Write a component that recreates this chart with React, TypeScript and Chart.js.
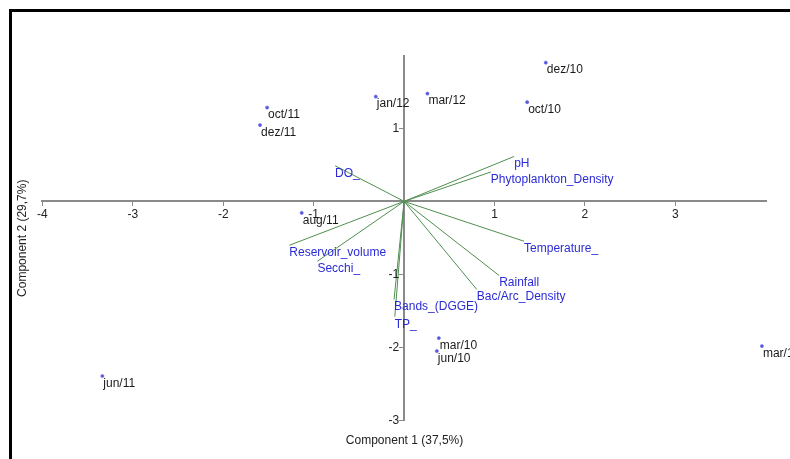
import { useEffect, useRef } from "react";
import { Chart, registerables } from "chart.js";

Chart.register(...registerables);

// Sample scores (Component 1, Component 2)
const sampleNames = ["dez/10", "oct/10", "mar/12", "jan/12", "oct/11", "dez/11", "aug/11", "mar/10", "jun/10", "mar/11", "jun/11"];
const sampleComp1 = [1.567, 1.361, 0.258, -0.313, -1.515, -1.593, -1.132, 0.384, 0.362, 3.957, -3.337];
const sampleComp2 = [1.899, 1.358, 1.475, 1.434, 1.284, 1.044, -0.158, -1.872, -2.049, -1.981, -2.391];

// Variable loadings drawn as vectors from the origin
const variableNames = ["pH", "Phytoplankton_Density", "DO_", "Reservoir_volume", "Secchi_", "Temperature_", "Rainfall", "Bac/Arc_Density", "Bands_(DGGE)", "TP_"];
const loading1 = [1.217, 0.959, -0.763, -1.269, -0.959, 1.327, 1.051, 0.804, -0.111, -0.103];
const loading2 = [0.615, 0.402, 0.488, -0.601, -0.82, -0.546, -1.015, -1.206, -1.343, -1.579];

// Axes
const xTickValues = [-4, -3, -2, -1, 1, 2, 3];
const yTickValues = [-3, -2, -1, 1];
const xRange = [-4, 4.01];
const yRange = [-3, 1.99];
const xTitle = "Component 1 (37,5%)";
const yTitle = "Component 2 (29,7%)";

const FONT = "Arial, 'Liberation Sans', sans-serif";
const AXIS_COLOR = "#8a8a8a";
const TICK_TEXT = "#222";
const VECTOR_COLOR = "#4f8f4f";
const POINT_COLOR = "#5a5ae0";
const SAMPLE_TEXT = "#1a1a1a";
const VARIABLE_TEXT = "#2b2bd6";

const biplotText = {
  id: "biplotText",
  afterDatasetsDraw(chart: any) {
    const { ctx, chartArea } = chart;
    const xs = chart.scales.x;
    const ys = chart.scales.y;
    ctx.save();
    ctx.font = `12px ${FONT}`;
    ctx.textBaseline = "middle";

    // y tick labels, placed left of the tick marks on the centre axis
    ctx.fillStyle = TICK_TEXT;
    ctx.textAlign = "right";
    const axisX = xs.getPixelForValue(0);
    yTickValues.forEach((v) => {
      ctx.fillText(String(v), axisX - 5, ys.getPixelForValue(v));
    });

    ctx.textAlign = "left";
    ctx.fillStyle = SAMPLE_TEXT;
    sampleNames.forEach((name, i) => {
      ctx.fillText(name, xs.getPixelForValue(sampleComp1[i]) + 1, ys.getPixelForValue(sampleComp2[i]) + 7.5);
    });

    ctx.fillStyle = VARIABLE_TEXT;
    variableNames.forEach((name, i) => {
      ctx.fillText(name, xs.getPixelForValue(loading1[i]), ys.getPixelForValue(loading2[i]) + 7.5);
    });

    // axis titles
    ctx.fillStyle = TICK_TEXT;
    ctx.textAlign = "center";
    ctx.fillText(xTitle, (chartArea.left + chartArea.right) / 2, chartArea.bottom + 20.5);
    ctx.translate(chartArea.left - 19.6, (chartArea.top + chartArea.bottom) / 2);
    ctx.rotate(-Math.PI / 2);
    ctx.fillText(yTitle, 0, 0);
    ctx.restore();
  },
};

export default function App() {
  const ref = useRef<HTMLCanvasElement>(null);

  useEffect(() => {
    const vectorSets = variableNames.map((name, i) => ({
      type: "line" as const,
      label: name,
      data: [
        { x: 0, y: 0 },
        { x: loading1[i], y: loading2[i] },
      ],
      borderColor: VECTOR_COLOR,
      borderWidth: 1,
      pointRadius: 0,
      showLine: true,
      fill: false,
    }));

    const chart = new Chart(ref.current!, {
      type: "scatter",
      data: {
        datasets: [
          ...vectorSets,
          {
            label: "samples",
            data: sampleNames.map((_, i) => ({ x: sampleComp1[i], y: sampleComp2[i] })),
            pointRadius: 1.6,
            backgroundColor: POINT_COLOR,
            borderColor: POINT_COLOR,
            borderWidth: 0.5,
          },
        ] as any,
      },
      options: {
        animation: false,
        responsive: false,
        devicePixelRatio: 1,
        layout: { padding: { left: 42.4, right: 23.3, top: 56, bottom: 38.5 } },
        plugins: { legend: { display: false }, tooltip: { enabled: false } },
        scales: {
          x: {
            type: "linear",
            position: { y: 0 } as any,
            min: xRange[0],
            max: xRange[1],
            afterBuildTicks: (s: any) => {
              s.ticks = xTickValues.map((v) => ({ value: v }));
            },
            afterFit: (s: any) => {
              s.height = 0;
            },
            border: { display: true, color: AXIS_COLOR, width: 2 },
            grid: { display: true, drawOnChartArea: false, drawTicks: true, tickLength: 4, color: AXIS_COLOR, lineWidth: 1 },
            ticks: { color: TICK_TEXT, font: { family: FONT, size: 12 }, padding: 2, autoSkip: false, maxRotation: 0 },
          },
          y: {
            type: "linear",
            position: { x: 0 } as any,
            min: yRange[0],
            max: yRange[1],
            afterBuildTicks: (s: any) => {
              s.ticks = yTickValues.map((v) => ({ value: v }));
            },
            afterFit: (s: any) => {
              s.width = 0;
            },
            border: { display: true, color: AXIS_COLOR, width: 2 },
            grid: { display: true, drawOnChartArea: false, drawTicks: true, tickLength: 4, color: AXIS_COLOR, lineWidth: 1 },
            ticks: { display: false, autoSkip: false },
          },
        },
      },
      plugins: [biplotText],
    });
    return () => chart.destroy();
  }, []);

  return (
    <div style={{ position: "fixed", left: 0, top: 0, width: 790, height: 459, background: "#fff", overflow: "hidden" }}>
      <canvas ref={ref} width={790} height={459} style={{ display: "block" }} />
      <div
        style={{
          position: "absolute",
          left: 9,
          top: 9,
          width: 800,
          height: 470,
          borderLeft: "3px solid #000",
          borderTop: "3px solid #000",
          pointerEvents: "none",
        }}
      />
    </div>
  );
}
